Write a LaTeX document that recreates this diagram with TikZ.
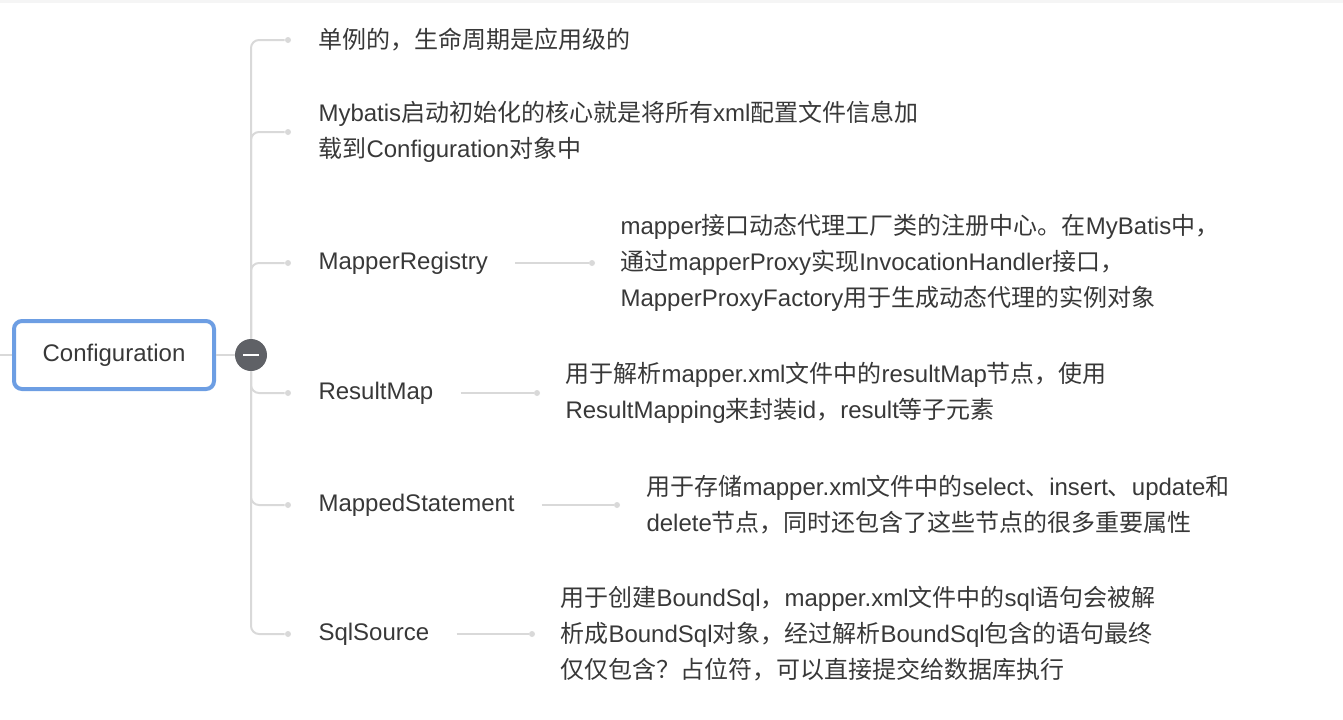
\documentclass[tikz,border=0pt]{standalone}
\usepackage{fontspec}
\setmainfont{Liberation Sans}
\newfontfamily\zhfont{Noto Sans CJK SC}
\newcommand{\zh}[1]{{\zhfont #1}}
\usetikzlibrary{positioning}
\definecolor{rootblue}{HTML}{6D9EE3}
\definecolor{btngray}{HTML}{5F6166}
\definecolor{linegray}{HTML}{D9D9D9}
\definecolor{textgray}{HTML}{383838}
\definecolor{topgray}{HTML}{F5F5F5}

\begin{document}
\begin{tikzpicture}[x=0.75pt,y=-0.75pt,font=\fontsize{18}{27}\selectfont]
  \tikzstyle{root}=[rectangle, draw=rootblue, line width=3pt, rounded corners=6pt, minimum width=150pt, minimum height=51pt, text=textgray]
  \tikzstyle{btn}=[circle, fill=btngray, minimum size=24pt, inner sep=0pt]
  \tikzstyle{dot}=[circle, fill=linegray, minimum size=4.5pt, inner sep=0pt]
  \tikzstyle{child}=[anchor=west, inner xsep=20.25pt, inner ysep=0pt, align=left, text=textgray]
  \tikzstyle{desc}=[anchor=west, inner sep=0pt, align=left, text=textgray]
  \tikzstyle{branch}=[draw=linegray, line width=1.5pt, rounded corners=6pt]
  \useasboundingbox (0,0) rectangle (1343,719);
  \fill[topgray] (0,0) rectangle (1343,3);

  \coordinate (In) at (0,355);
  \node[root] (Root) at (114,355) {Configuration};
  \node[btn] (Btn) at (251,355) {};

  \node[dot] (B_1) at (288,40) {};
  \node[dot] (B_2) at (288,132) {};
  \node[dot] (B_3) at (288,263) {};
  \node[dot] (B_4) at (288,393) {};
  \node[dot] (B_5) at (288,505) {};
  \node[dot] (B_6) at (288,634) {};

  \node[child, right=0pt of B_1] (C_1) {\zh{单例的，生命周期是应用级的}};
  \node[child, right=0pt of B_2] (C_2) {Mybatis\zh{启动初始化的核心就是将所有}xml\zh{配置文件信息加}\\\zh{载到}Configuration\zh{对象中}};
  \node[child, right=0pt of B_3] (C_3) {MapperRegistry};
  \node[child, right=0pt of B_4] (C_4) {ResultMap};
  \node[child, right=0pt of B_5] (C_5) {MappedStatement};
  \node[child, right=0pt of B_6] (C_6) {SqlSource};

  \node[dot] (E_3) at (592,263) {};
  \node[dot] (E_4) at (537,393) {};
  \node[dot] (E_5) at (617,505) {};
  \node[dot] (E_6) at (532,634) {};

  \node[desc, right=18.75pt of E_3] (D_3) {mapper\zh{接口动态代理工厂类的注册中心。在}MyBatis\zh{中，}\\\zh{通过}mapperProxy\zh{实现}InvocationHandler\zh{接口，}\\MapperProxyFactory\zh{用于生成动态代理的实例对象}};
  \node[desc, right=18.75pt of E_4] (D_4) {\zh{用于解析}mapper.xml\zh{文件中的}resultMap\zh{节点，使用}\\ResultMapping\zh{来封装}id\zh{，}result\zh{等子元素}};
  \node[desc, right=19.5pt of E_5] (D_5) {\zh{用于存储}mapper.xml\zh{文件中的}select\zh{、}insert\zh{、}update\zh{和}\\delete\zh{节点，同时还包含了这些节点的很多重要属性}};
  \node[desc, right=18.75pt of E_6] (D_6) {\zh{用于创建}BoundSql\zh{，}mapper.xml\zh{文件中的}sql\zh{语句会被解}\\\zh{析成}BoundSql\zh{对象，经过解析}BoundSql\zh{包含的语句最终}\\\zh{仅仅包含？占位符，可以直接提交给数据库执行}};

  \draw[branch] (In) -- (Root);
  \draw[branch] (Root) -- (Btn);
  \draw[branch] (Btn.north) |- (B_1);
  \draw[branch] (Btn.north) |- (B_2);
  \draw[branch] (Btn.north) |- (B_3);
  \draw[branch] (Btn.south) |- (B_4);
  \draw[branch] (Btn.south) |- (B_5);
  \draw[branch] (Btn.south) |- (B_6);
  \draw[branch] (C_3) -- (E_3);
  \draw[branch] (C_4) -- (E_4);
  \draw[branch] (C_5) -- (E_5);
  \draw[branch] (C_6) -- (E_6);
  \draw[white, line width=1.5pt] ([xshift=-6pt]Btn.center) -- ([xshift=6pt]Btn.center);
\end{tikzpicture}
\end{document}
